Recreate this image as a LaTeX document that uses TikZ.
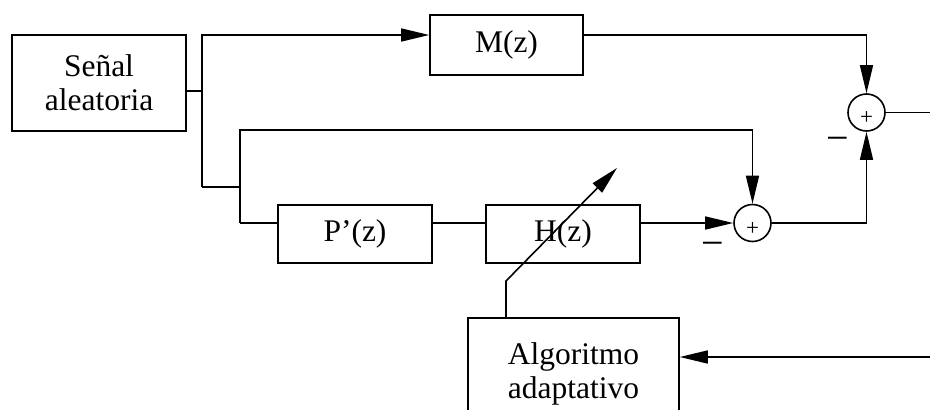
\documentclass[tikz,border=0pt]{standalone}
\usepackage{fontspec}
\setmainfont{Liberation Serif}
\usetikzlibrary{arrows.meta,calc}
\begin{document}
\begin{tikzpicture}[x=1pt,y=-1pt,line width=1.6pt,
  block/.style={draw,rectangle,inner sep=0pt,align=center,
    font=\fontsize{31.5}{34}\selectfont},
  sumnode/.style={draw,circle,minimum size=37pt,inner sep=0pt},
  arr/.style={-{Triangle[length=28pt,width=13pt]}},
  plus/.style={font=\fontsize{23}{23}\selectfont,inner sep=0pt},
  minus/.style={font=\fontsize{40}{40}\selectfont,inner sep=0pt}]
  \useasboundingbox (0,0) rectangle (930,410);

  % blocks
  \node[block,minimum width=174pt,minimum height=96pt] (sig) at (99,83) {Señal\\aleatoria};
  \node[block,minimum width=153pt,minimum height=60pt] (M) at (506.5,45) {M(z)};
  \node[block,minimum width=154pt,minimum height=58pt] (P) at (355,234) {P’(z)};
  \node[block,minimum width=154pt,minimum height=58pt] (H) at (563,234) {H(z)};
  \node[block,minimum width=211pt,minimum height=112pt] (alg) at (573.5,374) {Algoritmo\\adaptativo};

  % summing junctions
  \node[sumnode] (s1) at (752.5,223) {};
  \node[sumnode] (s2) at (866.5,112.5) {};
  \node[plus] (p1) at ($(s1.center)+(0,6)$) {+};
  \node[plus] (p2) at ($(s2.center)+(0,6)$) {+};
  \node[minus] (m1) at (713,249) {−};
  \node[minus] (m2) at (838,144) {−};

  % branch points
  \coordinate (a) at (202,91);
  \coordinate (b) at (202,187);
  \coordinate (c) at (240,187);
  \coordinate (d) at (240,223);
  \coordinate (e) at (866.5,223);
  \coordinate (out) at (930,112.5);
  \coordinate (err) at (930,357);
  \coordinate (k1) at (506,281);
  \coordinate (k2) at (617,168);

  % signal paths
  \draw (sig.east |- a) -- (a);
  \draw[arr] (b) |- (M.west |- 0,35);
  \draw[arr] (M.east |- 0,35) -| (s2.north);
  \draw (s2.east) -- (out);
  \draw (b) -- (c) -- (d);
  \draw[arr] (c) |- (752.5,130) -- (s1.north);
  \draw (d) -- (P.west |- d);
  \draw (P.east |- d) -- (H.west |- d);
  \draw[arr] (H.east |- d) -- (s1.west);
  \draw[arr] (s1.east) -- (e) -- (s2.south);
  \draw[arr] (err) -- (alg.east |- err);
  \draw[arr] (alg.north -| k1) -- (k1) -- (k2);
\end{tikzpicture}
\end{document}
